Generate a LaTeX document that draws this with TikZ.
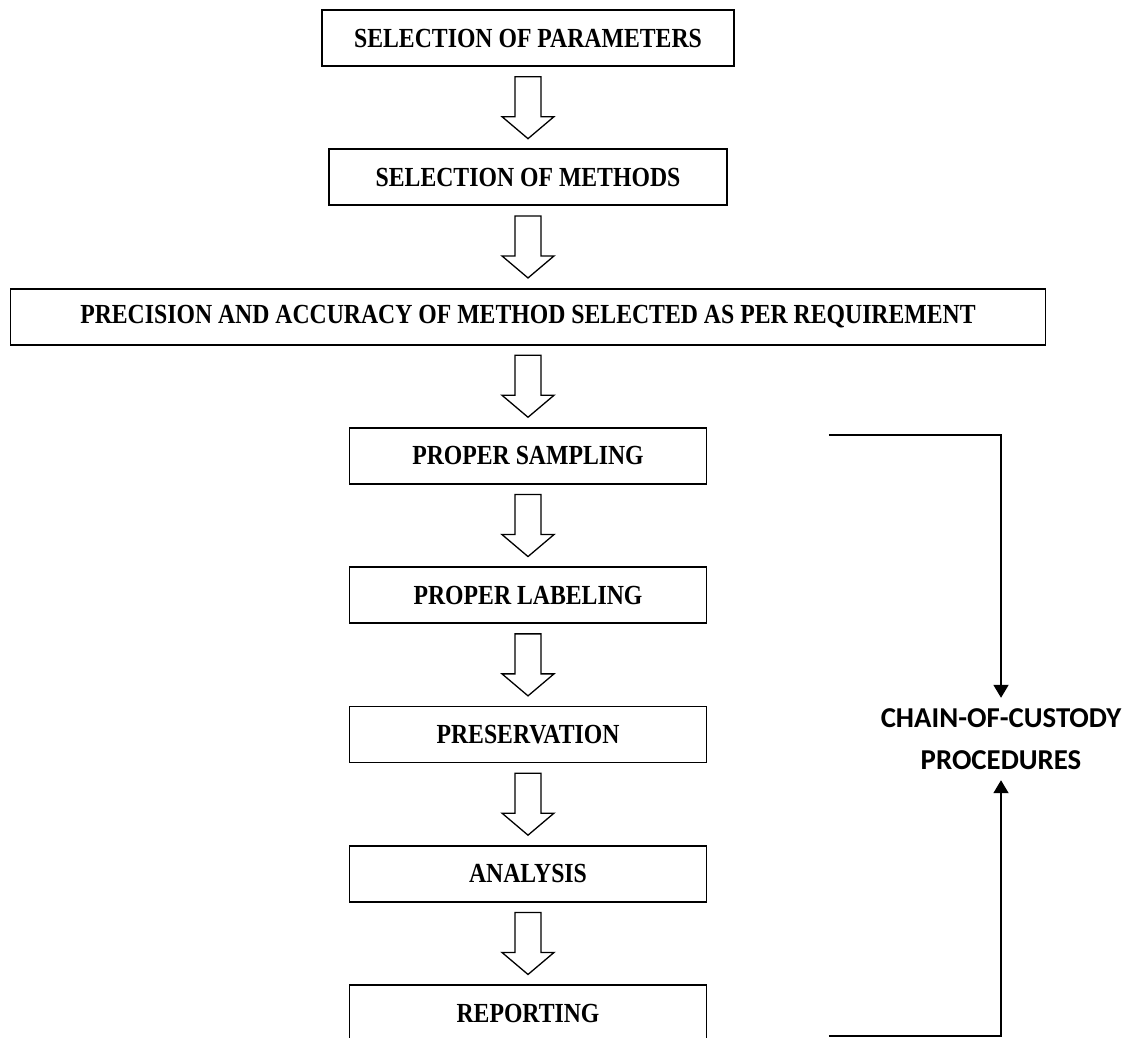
\documentclass[tikz,border=0pt]{standalone}
\usepackage{fontspec}
\setmainfont{Liberation Serif}[FakeStretch=0.86]
\newfontfamily\labelfont{Carlito}
\usetikzlibrary{positioning,arrows.meta}

\begin{document}
\begin{tikzpicture}[x=1pt, y=1pt, node distance=81.5pt,
  box/.style={draw, line width=1.8pt, minimum height=56pt, inner sep=0pt,
    font=\fontsize{27.6}{30}\selectfont\bfseries},
  hollow/.pic={\draw[line width=1.3pt, line join=miter]
    (-13,31) -- (-13,-9) -- (-26,-9) -- (0,-31) -- (26,-9) -- (13,-9) -- (13,31) -- cycle;},
  custody/.style={line width=1.8pt, -{Triangle[width=15pt,length=13pt]}}]
  \path[use as bounding box, clip] (0,0) rectangle (1131,-1037);
  \node[box, minimum width=412pt] (par) at (528,-38) {SELECTION OF PARAMETERS};
  \node[box, minimum width=398pt, below=of par] (met) {SELECTION OF METHODS};
  \node[box, minimum width=1035pt, below=of met] (acc) {PRECISION AND ACCURACY OF METHOD SELECTED AS PER REQUIREMENT};
  \node[box, minimum width=357pt, below=of acc] (samp) {PROPER SAMPLING};
  \node[box, minimum width=357pt, below=of samp] (lab) {PROPER LABELING};
  \node[box, minimum width=357pt, below=of lab] (pres) {PRESERVATION};
  \node[box, minimum width=357pt, below=of pres] (ana) {ANALYSIS};
  \node[box, minimum width=357pt, below=of ana] (rep) {REPORTING};
  \foreach \a/\b in {par/met,met/acc,acc/samp,samp/lab,lab/pres,pres/ana,ana/rep}{
    \path (\a.south) -- (\b.north) coordinate[midway] (m\a);
    \pic at (m\a) {hollow};
  }
  % custody bracket
  \node[font=\labelfont\bfseries\fontsize{28.8}{42}\selectfont, align=center,
    minimum height=82pt, inner sep=0pt] (coc) at (1001,-739) {CHAIN-OF-CUSTODY\\PROCEDURES};
  \coordinate (top) at ([xshift=121.5pt,yshift=-8pt]samp.north east);
  \coordinate (bot) at ([xshift=121.5pt,yshift=-52pt]rep.north east);
  \draw[custody] (top) -| (coc.north);
  \draw[custody] (bot) -| (coc.south);
\end{tikzpicture}
\end{document}
